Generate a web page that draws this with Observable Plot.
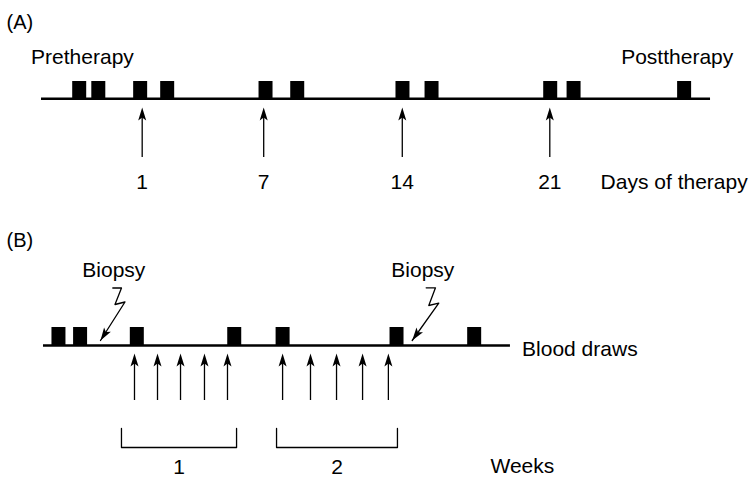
<!DOCTYPE html>
<html>
<head>
<meta charset="utf-8">
<script src="https://cdn.jsdelivr.net/npm/d3@7"></script>
<script src="https://cdn.jsdelivr.net/npm/@observablehq/plot@0.6"></script>
<style>
  html, body { margin: 0; padding: 0; background: #fff; }
  #chart { width: 749px; }
  #chart svg { display: block; font-family: "Liberation Sans", Arial, Helvetica, sans-serif; color: #000; }
</style>
</head>
<body>
<div id="chart"></div>
<script>
// ---------- Panel A: x in days of therapy (positions) ----------
const aSamples = [-2.06, -1.12, 0.94, 2.27, 7.11, 8.67, 13.85, 15.28, 21.12, 22.27, 27.71];
const aDosePos = [1.04, 7.02, 13.84, 21.10];
const aDoseLabels = ["1", "7", "14", "21"];
const aTimeline = [-3.915, 29.01];
const aPhaseLabels = ["Pretherapy", "Posttherapy"];
const aPhasePos = [-1.9, 27.37];
const aAxisTitle = "Days of therapy";
const aAxisTitlePos = 23.6;

// ---------- Panel B: x in treatment days (positions) ----------
const bSamples = [-2.27, -1.34, 1.10, 5.29, 7.37, 12.27, 15.61];
const bDosePos = [1.0, 1.99, 2.98, 4.01, 5.0, 7.37, 8.57, 9.69, 10.81, 11.92];
const bTimeline = [-2.914, 17.17];
const bWeekLabels = ["1", "2"];
const bWeekStart = [0.44, 7.11];
const bWeekEnd = [5.39, 12.31];
const bBiopsyLabel = "Biopsy";
const bBiopsyLabelPos = [0.11, 13.4];
const bBiopsyZigX = [[0.067, 0.441, 0.161, 0.591, -0.462], [13.546, 13.946, 13.658, 14.088, 12.944]];
const bBiopsyZigY = [[5.75, 5.75, 4.10, 4.35, 0.5], [5.77, 5.77, 4.0, 4.23, 0.5]];
const bLineLabel = "Blood draws";
const bLineLabelPos = 17.67;
const bAxisTitle = "Weeks";
const bAxisTitlePos = 16.31;

// ---------- layout ----------
const W = 749;
const HA = 200, HB = 278;
const aX = [-5.933, 30.928], aY = [-10.17, 9.83];
const bX = [-4.763, 27.452], bY = [-13.3, 14.5];
const FONT = 21;

// filled, notched arrowhead with its tip at the origin, pointing up
const arrowHead = {
  draw(ctx) {
    ctx.moveTo(0, 0);
    ctx.lineTo(4, 13);
    ctx.lineTo(0, 10);
    ctx.lineTo(-4, 13);
    ctx.closePath();
  }
};

const base = (h, xd, yd) => ({
  width: W, height: h,
  marginTop: 0, marginRight: 0, marginBottom: 0, marginLeft: 0,
  x: {domain: xd, axis: null},
  y: {domain: yd, axis: null},
  style: {fontFamily: '"Liberation Sans", Arial, Helvetica, sans-serif', color: "#000", background: "#fff"}
});

// ---------- Panel A ----------
const plotA = Plot.plot({
  ...base(HA, aX, aY),
  marks: [
    Plot.ruleY([{x1: aTimeline[0], x2: aTimeline[1], y: 0}], {x1: "x1", x2: "x2", y: "y", stroke: "#000", strokeWidth: 2.6}),
    Plot.ruleX(aSamples, {x: d => d, y1: 0, y2: 1.73, stroke: "#000", strokeWidth: 14}),
    Plot.ruleX(aDosePos, {x: d => d, y1: -5.87, y2: -1.5, stroke: "#000", strokeWidth: 1.3}),
    Plot.dot(aDosePos, {x: d => d, y: -0.87, symbol: arrowHead, fill: "#000", stroke: "none"}),
    Plot.text(aDosePos, {x: d => d, y: -8.3, text: (d, i) => aDoseLabels[i], fontSize: FONT, fill: "#000"}),
    Plot.text(aPhaseLabels, {x: (d, i) => aPhasePos[i], y: 4.17, text: d => d, fontSize: FONT, fill: "#000"}),
    Plot.text([aAxisTitle], {x: aAxisTitlePos, y: -8.3, text: d => d, textAnchor: "start", fontSize: FONT, fill: "#000"}),
    Plot.text(["(A)"], {frameAnchor: "top-left", lineAnchor: "top", dx: 6, dy: 14, text: d => d, fontSize: 20, fill: "#000"})
  ]
});

// ---------- Panel B ----------
const kx = W / (bX[1] - bX[0]);   // px per x unit
const ky = HB / (bY[1] - bY[0]);  // px per y unit
const zigRows = [];
bBiopsyZigX.forEach((xs, k) => xs.forEach((x, j) => zigRows.push({k, x, y: bBiopsyZigY[k][j]})));
const zigTips = bBiopsyZigX.map((xs, k) => {
  const n = xs.length;
  const ys = bBiopsyZigY[k];
  const dx = (xs[n - 1] - xs[n - 2]) * kx;
  const dy = -(ys[n - 1] - ys[n - 2]) * ky;
  return {x: xs[n - 1], y: ys[n - 1], r: Math.atan2(dx, -dy) * 180 / Math.PI};
});
const bracketRows = [];
bWeekLabels.forEach((w, i) => {
  bracketRows.push({w, x: bWeekStart[i], y: -8.3});
  bracketRows.push({w, x: bWeekStart[i], y: -10.2});
  bracketRows.push({w, x: bWeekEnd[i], y: -10.2});
  bracketRows.push({w, x: bWeekEnd[i], y: -8.3});
});

const plotB = Plot.plot({
  ...base(HB, bX, bY),
  marks: [
    Plot.ruleY([{x1: bTimeline[0], x2: bTimeline[1], y: 0}], {x1: "x1", x2: "x2", y: "y", stroke: "#000", strokeWidth: 2.6}),
    Plot.ruleX(bSamples, {x: d => d, y1: 0, y2: 1.8, stroke: "#000", strokeWidth: 14}),
    Plot.ruleX(bDosePos, {x: d => d, y1: -5.5, y2: -1.5, stroke: "#000", strokeWidth: 1.3}),
    Plot.dot(bDosePos, {x: d => d, y: -0.8, symbol: arrowHead, fill: "#000", stroke: "none"}),
    Plot.line(zigRows, {x: "x", y: "y", z: "k", stroke: "#000", strokeWidth: 1.3, curve: "linear"}),
    Plot.dot(zigTips, {x: "x", y: "y", rotate: "r", symbol: arrowHead, fill: "#000", stroke: "none"}),
    Plot.line(bracketRows, {x: "x", y: "y", z: "w", stroke: "#000", strokeWidth: 1.3}),
    Plot.text(bWeekLabels, {x: (d, i) => (bWeekStart[i] + bWeekEnd[i]) / 2, y: -12.15, text: d => d, fontSize: FONT, fill: "#000"}),
    Plot.text([bAxisTitle], {x: bAxisTitlePos, y: -12.1, text: d => d, textAnchor: "start", fontSize: FONT, fill: "#000"}),
    Plot.text([bLineLabel], {x: bLineLabelPos, y: -0.33, text: d => d, textAnchor: "start", fontSize: FONT, fill: "#000"}),
    Plot.text(bBiopsyLabelPos, {x: d => d, y: 7.57, text: () => bBiopsyLabel, fontSize: FONT, fill: "#000"}),
    Plot.text(["(B)"], {frameAnchor: "top-left", lineAnchor: "top", dx: 6, dy: 32.5, text: d => d, fontSize: 20, fill: "#000"})
  ]
});

document.getElementById("chart").append(plotA, plotB);
</script>
</body>
</html>
